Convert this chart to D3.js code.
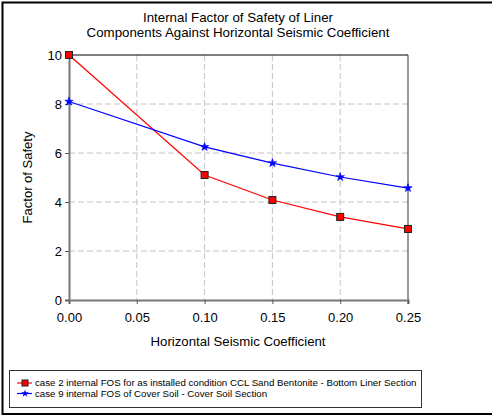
<!DOCTYPE html>
<html lang="en">
<head>
<meta charset="UTF-8">
<script src="https://cdn.jsdelivr.net/npm/d3@7"></script>
<style>
    body { margin: 0; background: #fff; overflow: hidden; }
    svg { font-family: "Liberation Sans", Arial, sans-serif; display: block; }
</style>
</head>
<body>
<svg width="492" height="416"></svg>
<script>
    var coefficients = [0.00, 0.10, 0.15, 0.20, 0.25];
    var bottomLiner = [10.0, 5.10, 4.08, 3.39, 2.90];
    var coverSoil = [8.10, 6.25, 5.59, 5.02, 4.57];
    var xTicks = [0.00, 0.05, 0.10, 0.15, 0.20, 0.25];
    var yTicks = [0, 2, 4, 6, 8, 10];
    var seriesNames = [
        "case 2 internal FOS for as installed condition CCL Sand Bentonite - Bottom Liner Section",
        "case 9 internal FOS of Cover Soil - Cover Soil Section"
    ];

    var svg = d3.select("svg");
    var plot = {left: 69, right: 408, top: 55, bottom: 300};

    var x = d3.scaleLinear().domain([0, 0.25]).range([plot.left, plot.right]);
    var y = d3.scaleLinear().domain([0, 10]).range([plot.bottom, plot.top]);

    // outer frame (right side falls outside the picture)
    svg.append("path")
        .attr("d", "M600,2.5H2.5V414H600")
        .attr("fill", "none").attr("stroke", "#000").attr("stroke-width", 2);

    // title
    var title = svg.append("text")
        .attr("text-anchor", "middle")
        .attr("font-size", 13.3);
    title.append("tspan").attr("x", 238).attr("y", 22).text("Internal Factor of Safety of Liner");
    title.append("tspan").attr("x", 238).attr("y", 37).text("Components Against Horizontal Seismic Coefficient");

    // grid
    svg.append("g").selectAll("line")
        .data(xTicks.slice(1, -1))
        .enter().append("line")
        .attr("x1", function (d) { return x(d); })
        .attr("x2", function (d) { return x(d); })
        .attr("y1", plot.top).attr("y2", plot.bottom)
        .attr("stroke", "#c4c4c4").attr("stroke-dasharray", "6,3");
    svg.append("g").selectAll("line")
        .data(yTicks.slice(1, -1))
        .enter().append("line")
        .attr("y1", function (d) { return y(d); })
        .attr("y2", function (d) { return y(d); })
        .attr("x1", plot.left).attr("x2", plot.right)
        .attr("stroke", "#c4c4c4").attr("stroke-dasharray", "6,3");

    // top / right border
    svg.append("line")
        .attr("x1", plot.left).attr("x2", plot.right)
        .attr("y1", plot.top).attr("y2", plot.top)
        .attr("stroke", "#000");
    svg.append("line")
        .attr("x1", plot.right).attr("x2", plot.right)
        .attr("y1", plot.top).attr("y2", plot.bottom + 4)
        .attr("stroke", "#333");

    // axes
    var xAxis = svg.append("g")
        .attr("transform", "translate(0," + plot.bottom + ")")
        .call(d3.axisBottom(x).tickValues(xTicks).tickFormat(d3.format(".2f")).tickSize(4).tickPadding(9));
    var yAxis = svg.append("g")
        .attr("transform", "translate(" + plot.left + ",0)")
        .call(d3.axisLeft(y).tickValues(yTicks).tickSize(4).tickPadding(3));
    [xAxis, yAxis].forEach(function (a) {
        a.select(".domain").attr("stroke", "#777").attr("stroke-width", 2);
        a.selectAll(".tick line").attr("stroke", "#555");
        a.selectAll(".tick text").attr("font-size", 13).attr("fill", "#000")
            .attr("font-family", "Liberation Sans, Arial, sans-serif");
    });
    yAxis.selectAll(".tick text").attr("dy", "0.35em");

    // axis titles
    svg.append("text")
        .attr("x", 238).attr("y", 346)
        .attr("text-anchor", "middle").attr("font-size", 13.2)
        .text("Horizontal Seismic Coefficient");
    svg.append("text")
        .attr("transform", "translate(32," + ((plot.top + plot.bottom) / 2) + ") rotate(-90)")
        .attr("text-anchor", "middle").attr("font-size", 13)
        .text("Factor of Safety");

    var line = d3.line()
        .x(function (d, i) { return x(coefficients[i]); })
        .y(function (d) { return y(d); });

    var star = d3.symbol().type(d3.symbolStar).size(22);

    function drawSeries(values, color, marker) {
        svg.append("path")
            .datum(values)
            .attr("d", line)
            .attr("fill", "none")
            .attr("stroke", color)
            .attr("stroke-width", 1.2);
        var g = svg.append("g");
        values.forEach(function (v, i) {
            if (marker === "square") {
                g.append("rect")
                    .attr("x", x(coefficients[i]) - 3.5).attr("y", y(v) - 3.5)
                    .attr("width", 7).attr("height", 7)
                    .attr("fill", "#f00").attr("stroke", "#222").attr("stroke-width", 1);
            } else {
                g.append("path")
                    .attr("d", star)
                    .attr("transform", "translate(" + x(coefficients[i]) + "," + y(v) + ")")
                    .attr("fill", "#00f").attr("stroke", "#00f").attr("stroke-width", 0.6);
            }
        });
    }

    drawSeries(bottomLiner, "#f00", "square");
    drawSeries(coverSoil, "#00f", "star");

    // legend
    var legend = svg.append("g");
    legend.append("rect")
        .attr("x", 9.5).attr("y", 370.5)
        .attr("width", 412).attr("height", 37)
        .attr("fill", "#fff").attr("stroke", "#333");
    var colors = ["#f00", "#00f"];
    seriesNames.forEach(function (name, i) {
        var ly = 383 + i * 10.5;
        legend.append("line")
            .attr("x1", 17).attr("x2", 32).attr("y1", ly).attr("y2", ly)
            .attr("stroke", colors[i]).attr("stroke-width", 1.2);
        if (i === 0) {
            legend.append("rect")
                .attr("x", 22).attr("y", ly - 3).attr("width", 6).attr("height", 6)
                .attr("fill", "#f00").attr("stroke", "#222");
        } else {
            legend.append("path")
                .attr("d", d3.symbol().type(d3.symbolStar).size(18))
                .attr("transform", "translate(25," + ly + ")")
                .attr("fill", "#00f");
        }
        legend.append("text")
            .attr("x", 35).attr("y", ly + 3.3)
            .attr("font-size", 9.7)
            .text(name);
    });
</script>
</body>
</html>
